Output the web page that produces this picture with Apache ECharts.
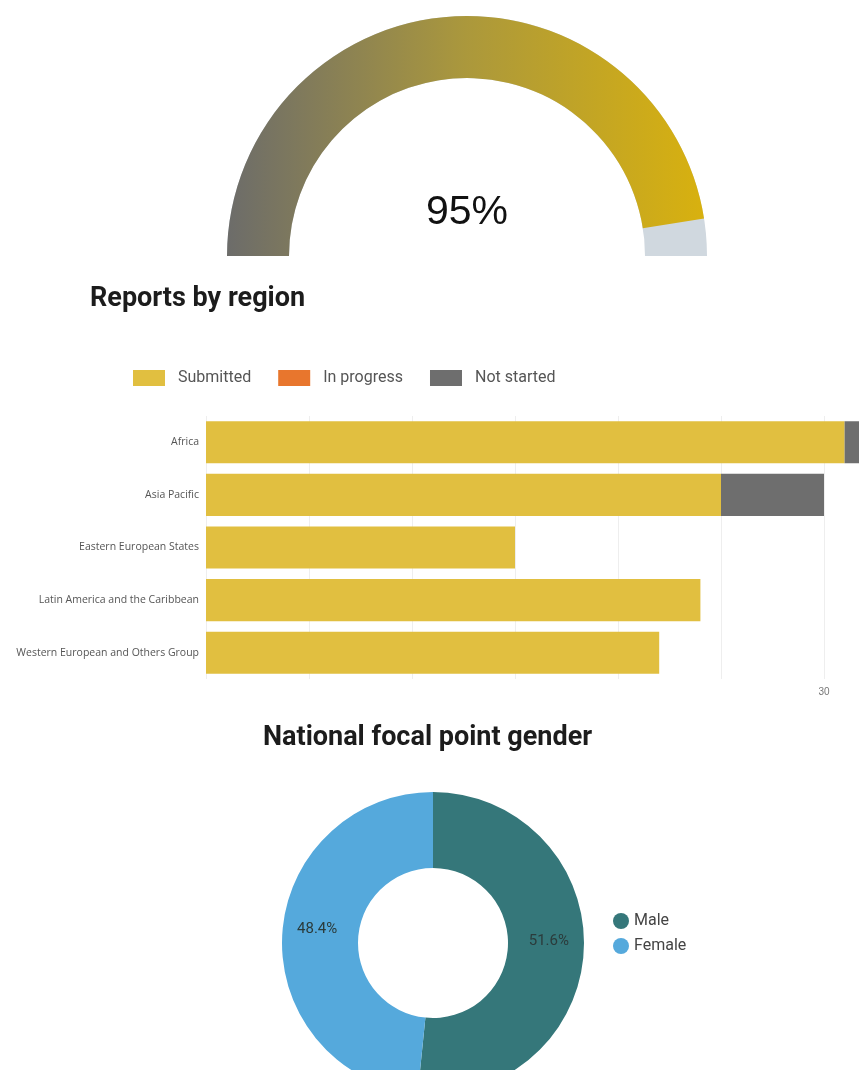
<!DOCTYPE html>
<html lang="en">
<head>
    <meta charset="UTF-8">
    <title>reports</title>
    <style>
        html, body { margin: 0; padding: 0; overflow: hidden; background: #fff; }
    </style>
</head>
<body>
<div id="main" style="width: 1000px;height:1070px;"></div>
</body>
<script src="https://cdn.jsdelivr.net/npm/echarts@6/dist/echarts.min.js"></script>
<script>

// overall completion
let completion = [95]

// reports by region
let regions = ['Africa', 'Asia Pacific', 'Eastern European States', 'Latin America and the Caribbean', 'Western European and Others Group']
let submitted = [31, 25, 15, 24, 22]
let inProgress = [0, 0, 0, 0, 0]
let notStarted = [1, 5, 0, 0, 0]

// focal point gender
let genders = ['Male', 'Female']
let genderCounts = [16, 15]

let chartDom = document.getElementById('main');
let myChart = echarts.init(chartDom);
let option;

const BAR_COLORS = ['#e1bf40', '#e8762d', '#6e6e6e']
const PIE_COLORS = ['#35777a', '#55a9dc']

let barSeries = [
    {name: 'Submitted', data: submitted},
    {name: 'In progress', data: inProgress},
    {name: 'Not started', data: notStarted}
].map((it, index) => ({
    name: it.name,
    type: 'bar',
    stack: 'total',
    barCategoryGap: '20%',
    itemStyle: {color: BAR_COLORS[index]},
    data: it.data
}))

option = {
    animation: false,
    title: [
        {
            text: 'Reports by region',
            left: 90,
            top: 286,
            padding: 0,
            textStyle: {fontFamily: 'Roboto', fontWeight: 'bold', fontSize: 27, color: '#1c1c1c'}
        },
        {
            text: 'National focal point gender',
            left: 263,
            top: 725,
            padding: 0,
            textStyle: {fontFamily: 'Roboto', fontWeight: 'bold', fontSize: 27, color: '#1c1c1c'}
        }
    ],
    legend: [
        {
            data: ['Submitted', 'In progress', 'Not started'],
            left: 133,
            top: 370,
            padding: 0,
            itemWidth: 32,
            itemHeight: 16,
            itemGap: 27,
            icon: 'rect',
            textStyle: {fontFamily: 'Roboto', fontSize: 16, color: '#555', padding: [0, 0, 0, 8]}
        },
        {
            data: genders,
            orient: 'vertical',
            left: 613,
            top: 913,
            padding: 0,
            icon: 'circle',
            itemWidth: 16,
            itemHeight: 16,
            itemGap: 9,
            textStyle: {fontFamily: 'Roboto', fontSize: 16, color: '#444'}
        }
    ],
    grid: {
        left: 206,
        top: 416,
        width: 721,
        height: 263,
        containLabel: false
    },
    xAxis: {
        type: 'value',
        min: 0,
        max: 35,
        interval: 5,
        axisLine: {show: false},
        axisTick: {show: false},
        splitLine: {lineStyle: {color: '#eeeeee'}},
        axisLabel: {
            color: '#777',
            fontSize: 10,
            margin: 8,
            formatter: v => (v >= 30 ? String(v) : '')
        }
    },
    yAxis: {
        type: 'category',
        inverse: true,
        data: regions,
        axisLine: {show: false},
        axisTick: {show: false},
        axisLabel: {color: '#555', fontSize: 10.5, fontFamily: 'Open Sans', margin: 7}
    },
    series: [
        {
            type: 'gauge',
            center: [467, 256],
            radius: 240,
            startAngle: 180,
            endAngle: 0,
            min: 0,
            max: 100,
            pointer: {show: false},
            axisTick: {show: false},
            splitLine: {show: false},
            axisLabel: {show: false},
            axisLine: {lineStyle: {width: 62, color: [[1, '#d0d8df']]}},
            progress: {
                show: true,
                width: 62,
                itemStyle: {
                    color: new echarts.graphic.LinearGradient(0, 0, 1, 0, [
                        {offset: 0, color: '#6c6c6a'},
                        {offset: 0.5, color: '#ab983c'},
                        {offset: 1, color: '#d8b10f'}
                    ])
                }
            },
            title: {show: false},
            detail: {
                offsetCenter: [0, -43],
                formatter: '{value}%',
                fontFamily: 'Liberation Sans',
                fontWeight: 'normal',
                fontSize: 41,
                color: '#111'
            },
            data: [{value: completion[0]}]
        }
    ].concat(barSeries).concat([
        {
            type: 'pie',
            center: [433, 943],
            radius: [75, 151],
            startAngle: 90,
            percentPrecision: 1,
            label: {
                position: 'inside',
                formatter: '{d}%\n ',
                lineHeight: 16,
                color: '#2b3b3b',
                fontSize: 15,
                fontFamily: 'Roboto'
            },
            labelLine: {show: false},
            data: genders.map((g, i) => ({
                name: g,
                value: genderCounts[i],
                itemStyle: {color: PIE_COLORS[i]}
            }))
        }
    ])
}
option && myChart.setOption(option);

</script>
</html>
